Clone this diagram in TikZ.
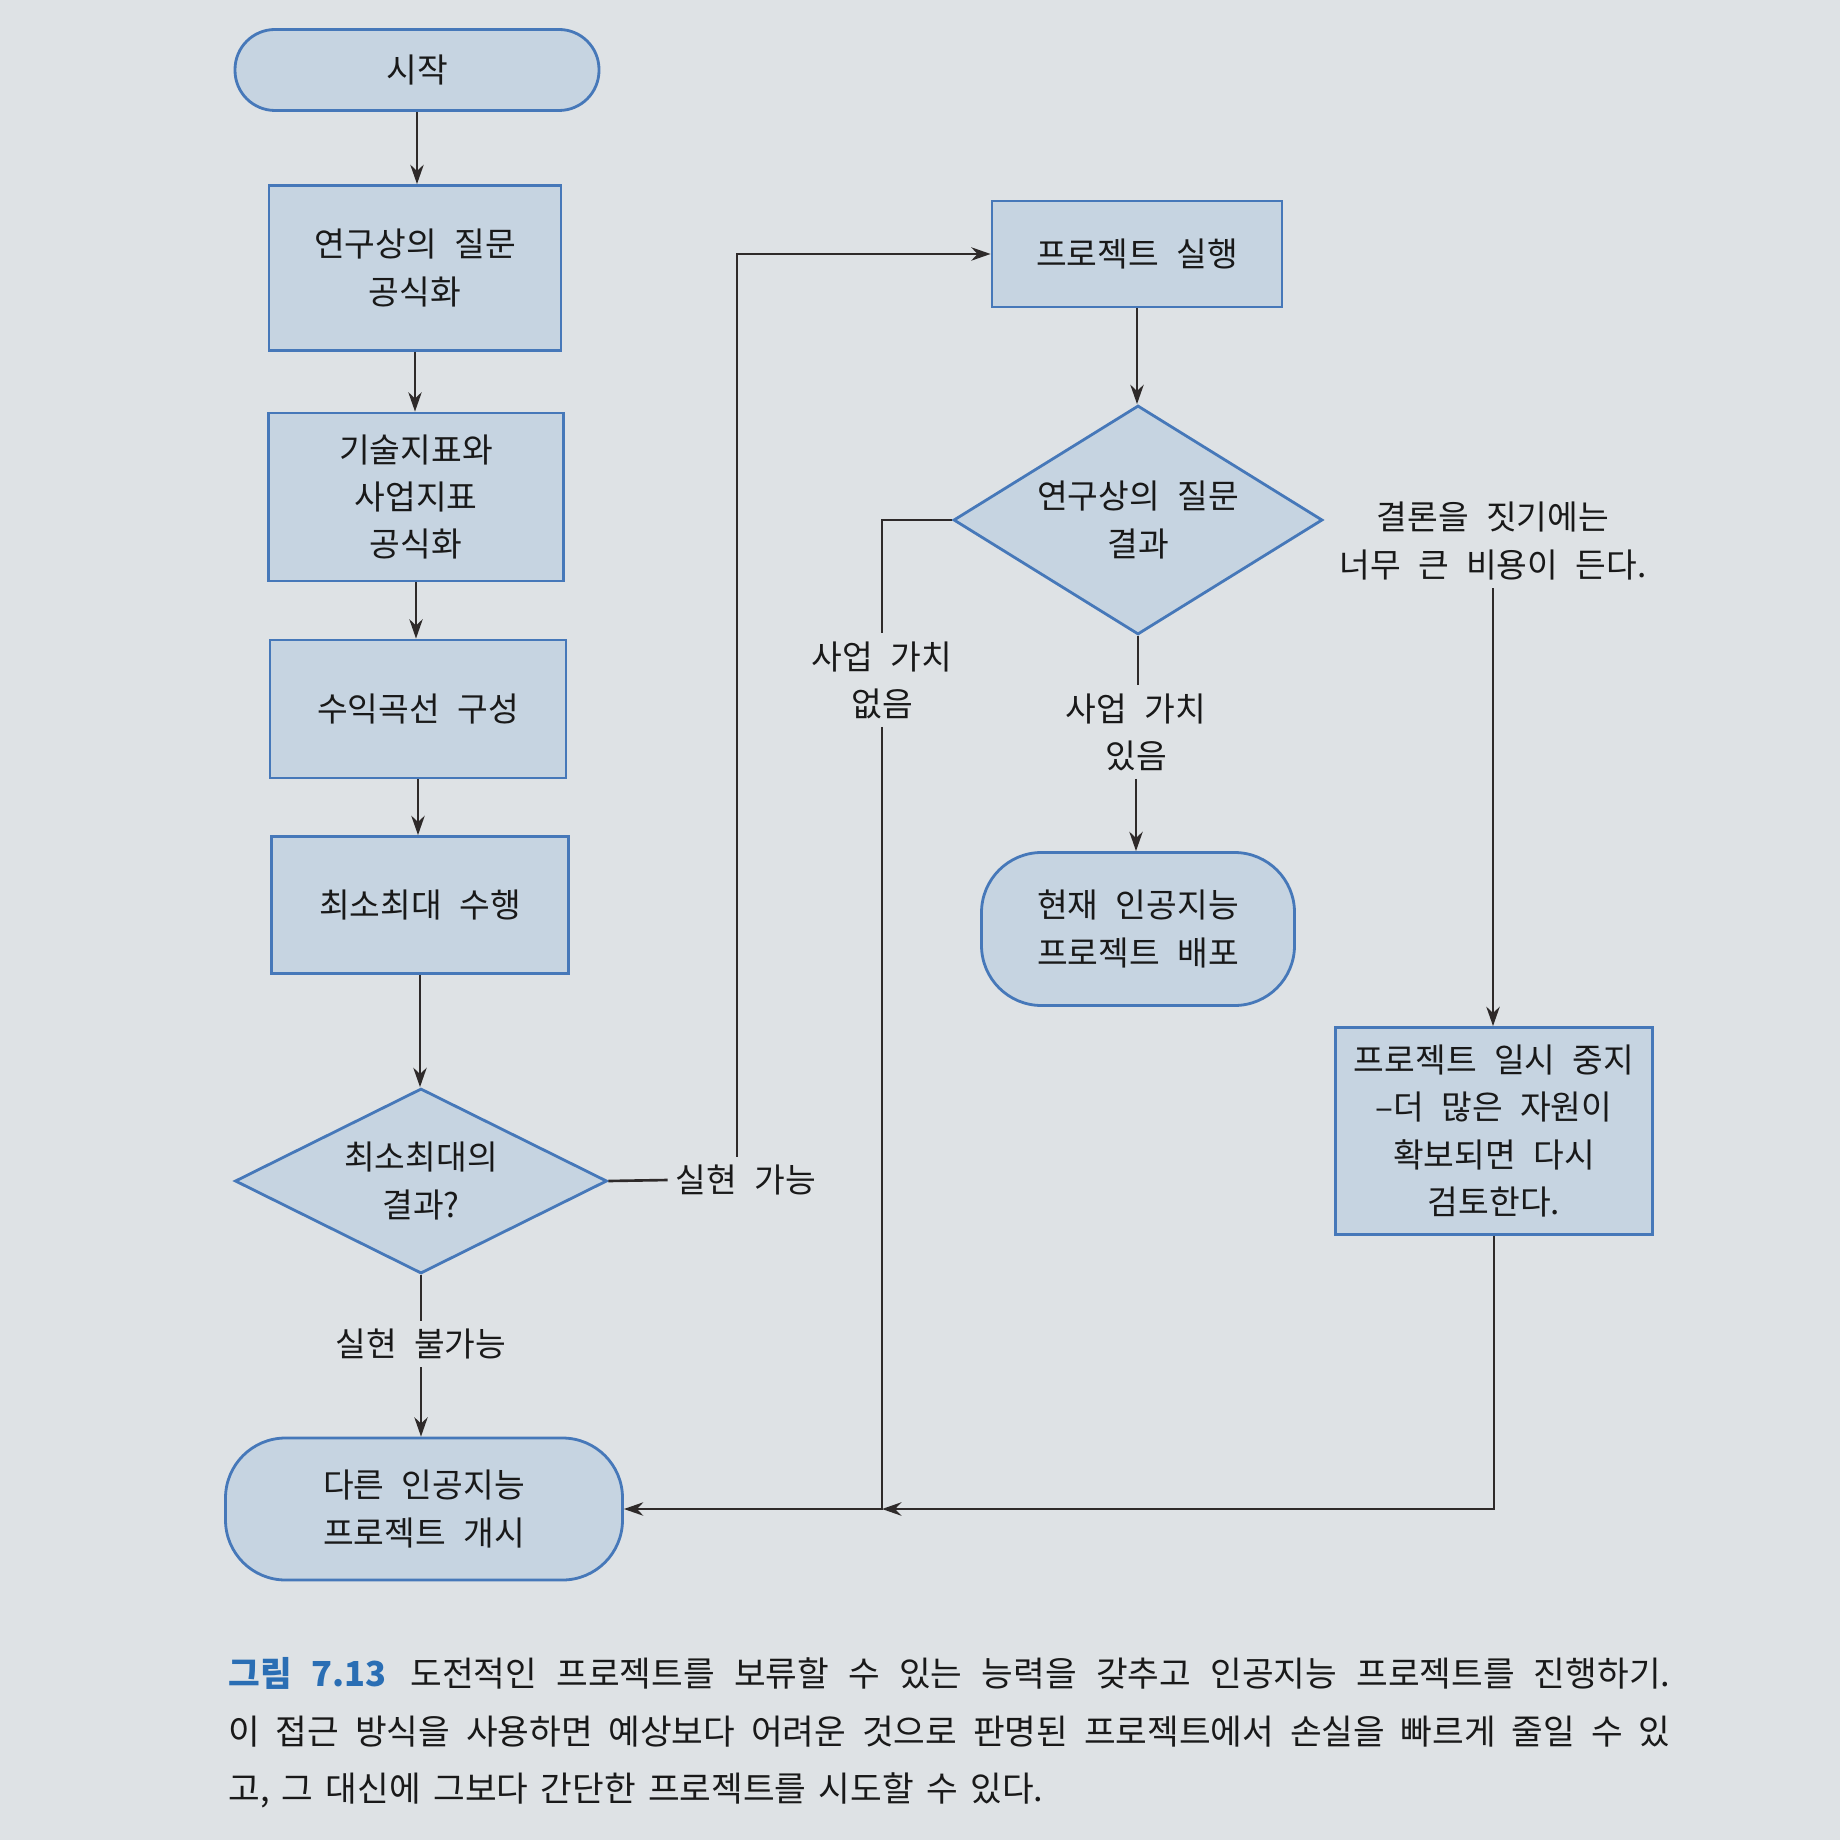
\documentclass[tikz,border=0pt]{standalone}
\usepackage{fontspec}
\setmainfont{Noto Sans CJK KR}[WordSpace=2.3]
\newfontfamily\capfont{Noto Sans CJK KR}[WordSpace=1.6]
\usetikzlibrary{shapes.geometric,arrows.meta,calc}
\definecolor{pagebg}{HTML}{DEE2E5}
\definecolor{boxfill}{HTML}{C6D4E1}
\definecolor{boxline}{HTML}{4678B9}
\definecolor{inkline}{HTML}{2E2A2A}
\definecolor{capblue}{HTML}{2A6EB4}
\tikzset{
  box/.style={draw=boxline, fill=boxfill, line width=0.8pt, align=center, inner sep=0pt},
  term/.style={box, rounded corners=#1},
  choice/.style={box, diamond},
  lbl/.style={align=center, inner sep=2pt},
}
\begin{document}
\begin{tikzpicture}[font=\fontsize{9.5}{13.4}\selectfont, >={Stealth[length=5.5pt,width=3.8pt]}, line width=0.75pt, text=black!90]
\fill[pagebg] (0,0) rectangle (18.4,-18.4);
\useasboundingbox (0,0) rectangle (18.4,-18.4);
\node[term=0.4cm, minimum width=3.64cm, minimum height=0.81cm] (start) at (4.17,-0.70) {시작};
\node[box, minimum width=2.92cm, minimum height=1.65cm] (quest) at (4.15,-2.68) {연구상의 질문\\공식화};
\node[box, minimum width=2.95cm, minimum height=1.68cm] (metric) at (4.16,-4.97) {기술지표와\\사업지표\\공식화};
\node[box, minimum width=2.96cm, minimum height=1.38cm] (curve) at (4.18,-7.09) {수익곡선 구성};
\node[box, minimum width=2.97cm, minimum height=1.37cm] (minmax) at (4.20,-9.05) {최소최대 수행};
\node[choice, aspect=2, minimum width=3.72cm, minimum height=1.85cm] (mmres) at (4.21,-11.81) {최소최대의\\결과?};
\node[term=0.6cm, minimum width=3.97cm, minimum height=1.42cm] (other) at (4.24,-15.09) {다른 인공지능\\프로젝트 개시};
\node[box, minimum width=2.90cm, minimum height=1.06cm] (run) at (11.37,-2.54) {프로젝트 실행};
\node[choice, aspect=1.6, minimum width=3.69cm, minimum height=2.29cm] (qres) at (11.38,-5.20) {연구상의 질문\\결과};
\node[term=0.6cm, minimum width=3.13cm, minimum height=1.53cm] (deploy) at (11.38,-9.29) {현재 인공지능\\프로젝트 배포};
\node[box, minimum width=3.17cm, minimum height=2.07cm] (pause) at (14.94,-11.31) {프로젝트 일시 중지\\–더 많은 자원이\\확보되면 다시\\검토한다.};
\node[lbl] (costly) at (14.93,-5.41) {결론을 짓기에는\\너무 큰 비용이 든다.};
\node[lbl] (novalue) at (8.82,-6.80) {사업 가치\\없음};
\node[lbl] (value) at (11.36,-7.32) {사업 가치\\있음};
\node[lbl] (feasible) at (7.46,-11.80) {실현 가능};
\node[lbl] (infeasible) at (4.21,-13.44) {실현 불가능};
\coordinate (merge) at (8.82,-15.09);
\begin{scope}[draw=inkline]
\draw[->] (start.south) -- (start.south |- quest.north);
\draw[->] (quest.south) -- (quest.south |- metric.north);
\draw[->] (metric.south) -- (metric.south |- curve.north);
\draw[->] (curve.south) -- (curve.south |- minmax.north);
\draw[->] (minmax.south) -- (minmax.south |- mmres.north);
\draw (mmres.south) -- (infeasible.north);
\draw[->] (infeasible.south) -- (infeasible.south |- other.north);
\draw (mmres.east) -- (feasible.west);
\draw[->] ($(feasible.north)+(-0.09,0)$) |- (run.west);
\draw[->] (run.south) -- (run.south |- qres.north);
\draw (qres.west) -| (novalue.north);
\draw[->] (novalue.south) |- (other.east);
\draw (qres.south) -- (qres.south |- value.north);
\draw[->] (value.south) -- (value.south |- deploy.north);
\draw[->] (costly.south) -- (costly.south |- pause.north);
\draw[->] (pause.south) |- (merge);
\end{scope}
\node[anchor=north west, inner sep=0pt, text width=14.42cm, align=justify, font=\capfont\fontsize{9.8}{16.4}\selectfont] (caption) at (2.27,-16.56)
  {{\color{capblue}\bfseries 그림 7.13}\hspace{0.7em}도전적인 프로젝트를 보류할 수 있는 능력을 갖추고 인공지능 프로젝트를 진행하기.\linebreak
   이 접근 방식을 사용하면 예상보다 어려운 것으로 판명된 프로젝트에서 손실을 빠르게 줄일 수 있\linebreak
   고, 그 대신에 그보다 간단한 프로젝트를 시도할 수 있다.};
\end{tikzpicture}
\end{document}
